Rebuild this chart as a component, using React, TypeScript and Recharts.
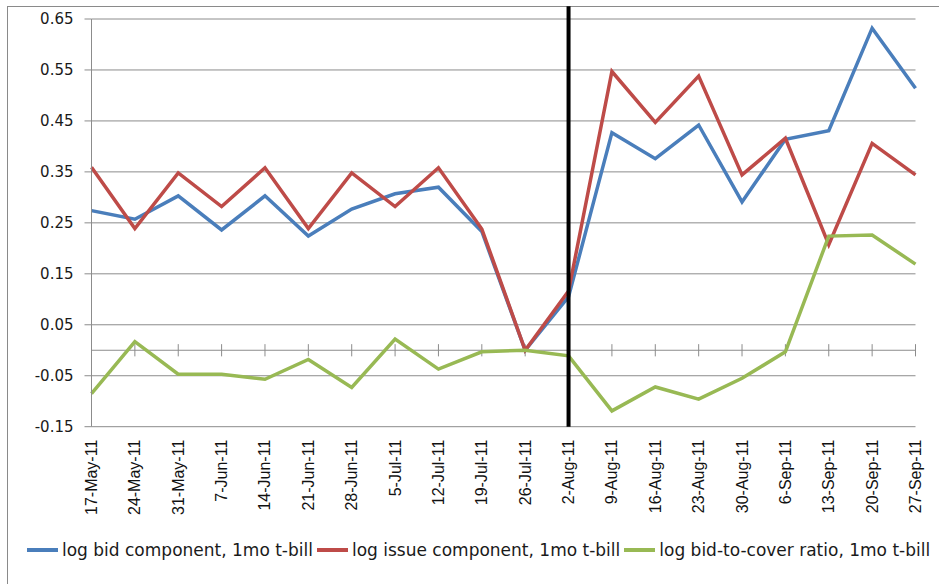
import React from 'react';
import { LineChart, Line, XAxis, YAxis, CartesianGrid, ReferenceLine } from 'recharts';

// weekly 1-month t-bill auction dates
const dates = [
  '17-May-11', '24-May-11', '31-May-11', '7-Jun-11', '14-Jun-11', '21-Jun-11', '28-Jun-11',
  '5-Jul-11', '12-Jul-11', '19-Jul-11', '26-Jul-11', '2-Aug-11', '9-Aug-11', '16-Aug-11',
  '23-Aug-11', '30-Aug-11', '6-Sep-11', '13-Sep-11', '20-Sep-11', '27-Sep-11',
];

const bidComponent = [
  0.274, 0.257, 0.303, 0.236, 0.303, 0.224, 0.277, 0.307, 0.32, 0.233,
  0.0, 0.105, 0.427, 0.376, 0.442, 0.291, 0.414, 0.431, 0.632, 0.514,
];

const issueComponent = [
  0.359, 0.239, 0.348, 0.282, 0.358, 0.239, 0.348, 0.282, 0.358, 0.238,
  0.0, 0.116, 0.547, 0.447, 0.538, 0.344, 0.416, 0.207, 0.406, 0.344,
];

const bidToCover = [
  -0.085, 0.017, -0.047, -0.047, -0.057, -0.018, -0.073, 0.022, -0.037, -0.003,
  0.0, -0.011, -0.119, -0.072, -0.096, -0.055, -0.003, 0.224, 0.226, 0.169,
];

const seriesNames = [
  'log bid component, 1mo t-bill',
  'log issue component, 1mo t-bill',
  'log bid-to-cover ratio, 1mo t-bill',
];
const seriesKeys = ['bid', 'issue', 'cover'];
const seriesColors = ['#4a7ebb', '#be4b48', '#98b954'];

const yTicks = [-0.15, -0.05, 0.05, 0.15, 0.25, 0.35, 0.45, 0.55, 0.65];
const breakDate = '2-Aug-11';
const breakTop = 0.675;

const data = dates.map((date, i) => ({
  date,
  bid: bidComponent[i],
  issue: issueComponent[i],
  cover: bidToCover[i],
}));

const FONT = '"DejaVu Sans", sans-serif';
const GRID = '#8c8c8c';

function DateTick({ x, y, payload }: any) {
  const ty = y + 13;
  return (
    <text
      x={x}
      y={ty}
      transform={`rotate(-90, ${x}, ${ty})`}
      textAnchor="end"
      dominantBaseline="central"
      fontSize={16}
      fontFamily='"Liberation Sans", Arial, sans-serif'
      fill="#111"
    >
      {payload.value}
    </text>
  );
}

function LegendRow() {
  return (
    <div
      style={{
        position: 'absolute',
        top: 540,
        left: 27,
        display: 'flex',
        alignItems: 'center',
        fontFamily: FONT,
        fontSize: 17,
        color: '#1a1a1a',
        whiteSpace: 'nowrap',
      }}
    >
      {seriesNames.map((name, i) => (
        <div key={name} style={{ display: 'flex', alignItems: 'center', marginRight: 4 }}>
          <span
            style={{
              display: 'inline-block',
              width: 31,
              height: 3.5,
              background: seriesColors[i],
              marginRight: 4,
            }}
          />
          <span>{name}</span>
        </div>
      ))}
    </div>
  );
}

export default function App() {
  return (
    <div
      style={{
        position: 'fixed',
        left: 0,
        top: 0,
        width: 939,
        height: 584,
        overflow: 'hidden',
        background: '#fff',
      }}
    >
      <div
        style={{
          position: 'absolute',
          left: 7,
          top: 6,
          width: 1000,
          height: 700,
          borderLeft: '1.5px solid #8a8a8a',
          borderTop: '1.5px solid #8a8a8a',
        }}
      />
      <div style={{ position: 'absolute', left: 0, top: 0 }}>
        <LineChart
          width={939}
          height={584}
          data={data}
          margin={{ top: 19, right: 23.5, bottom: 67.3, left: 31.5 }}
          style={{ fontFamily: FONT }}
        >
          <CartesianGrid vertical={false} stroke={GRID} strokeWidth={1} />
          <XAxis
            dataKey="date"
            interval={0}
            axisLine={false}
            tickLine={false}
            tickSize={0}
            tickMargin={0}
            height={90}
            tick={<DateTick />}
          />
          <YAxis
            domain={[-0.15, 0.65]}
            ticks={yTicks}
            width={60}
            allowDataOverflow
            tickFormatter={(v: number) => v.toFixed(2)}
            tickSize={7}
            tickMargin={11}
            axisLine={{ stroke: GRID }}
            tickLine={{ stroke: GRID }}
            tick={{ fontSize: 15, fill: '#1a1a1a', fontFamily: FONT }}
          />
          <ReferenceLine y={0} stroke={GRID} strokeWidth={1} />
          {dates.map((d) => (
            <ReferenceLine
              key={d}
              segment={[{ x: d, y: -0.012 }, { x: d, y: 0.012 }]}
              stroke={GRID}
              strokeWidth={1}
            />
          ))}
          {seriesKeys.map((k, i) => (
            <Line
              key={k}
              type="linear"
              dataKey={k}
              name={seriesNames[i]}
              stroke={seriesColors[i]}
              strokeWidth={3.5}
              dot={false}
              isAnimationActive={false}
            />
          ))}
          <ReferenceLine
            segment={[{ x: breakDate, y: -0.15 }, { x: breakDate, y: breakTop }]}
            ifOverflow="visible"
            stroke="#000"
            strokeWidth={4}
          />
        </LineChart>
      </div>
      <LegendRow />
    </div>
  );
}
